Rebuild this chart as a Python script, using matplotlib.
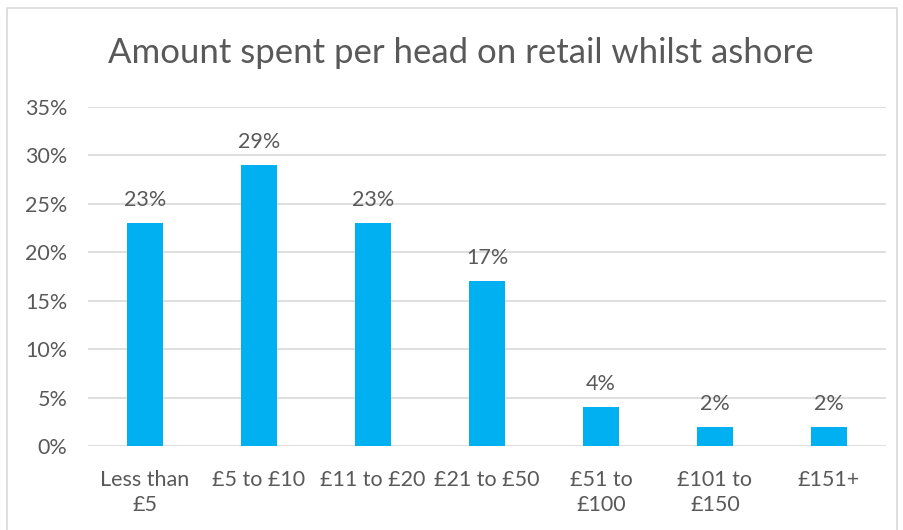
import matplotlib.pyplot as plt
from matplotlib.patches import Rectangle

# datos del grafico
categorias = ['Less than\n£5', '£5 to £10', '£11 to £20', '£21 to £50',
              '£51 to\n£100', '£101 to\n£150', '£151+']
valores = [23, 29, 23, 17, 4, 2, 2]
ticks_y = [0, 5, 10, 15, 20, 25, 30, 35]
titulo = 'Amount spent per head on retail whilst ashore'

plt.rcParams['font.family'] = ['Lato', 'DejaVu Sans']
gris = '#595959'

fig = plt.figure(figsize=(9.04, 5.30), dpi=100)
W, H = 904, 530

# marco exterior del grafico
fig.patches.append(Rectangle((7 / W, -0.05), (897 - 7) / W, 1.05 - 8 / H,
                             transform=fig.transFigure, fill=False,
                             edgecolor='#D9D9D9', linewidth=1.2))

ax = fig.add_axes([88 / W, (H - 446) / H, 798 / W, 339 / H])
x = range(len(categorias))
ax.bar(x, valores, width=0.316, color='#00B0F0', zorder=3)

for xi, v in zip(x, valores):
    ax.text(xi, v + 1.35, f'{v}%', ha='center', va='bottom', fontsize=15.5, color=gris)

ax.set_xlim(-0.5, len(categorias) - 0.5)
ax.set_ylim(0, 35)
ax.set_yticks(ticks_y)
ax.set_yticklabels([f'{t}%' for t in ticks_y])
ax.set_xticks(list(x))
ax.set_xticklabels(categorias, linespacing=1.35)
ax.tick_params(axis='both', length=0, labelsize=15.5, labelcolor=gris)
ax.tick_params(axis='x', pad=17)
ax.tick_params(axis='y', pad=15)
ax.grid(axis='y', color='#D9D9D9', linewidth=1.2, zorder=0)
for s in ax.spines.values():
    s.set_visible(False)

fig.text(461 / W, 1 - 53 / H, titulo, ha='center', va='center', fontsize=25, color=gris)

fig.savefig('out.png', dpi=100)
